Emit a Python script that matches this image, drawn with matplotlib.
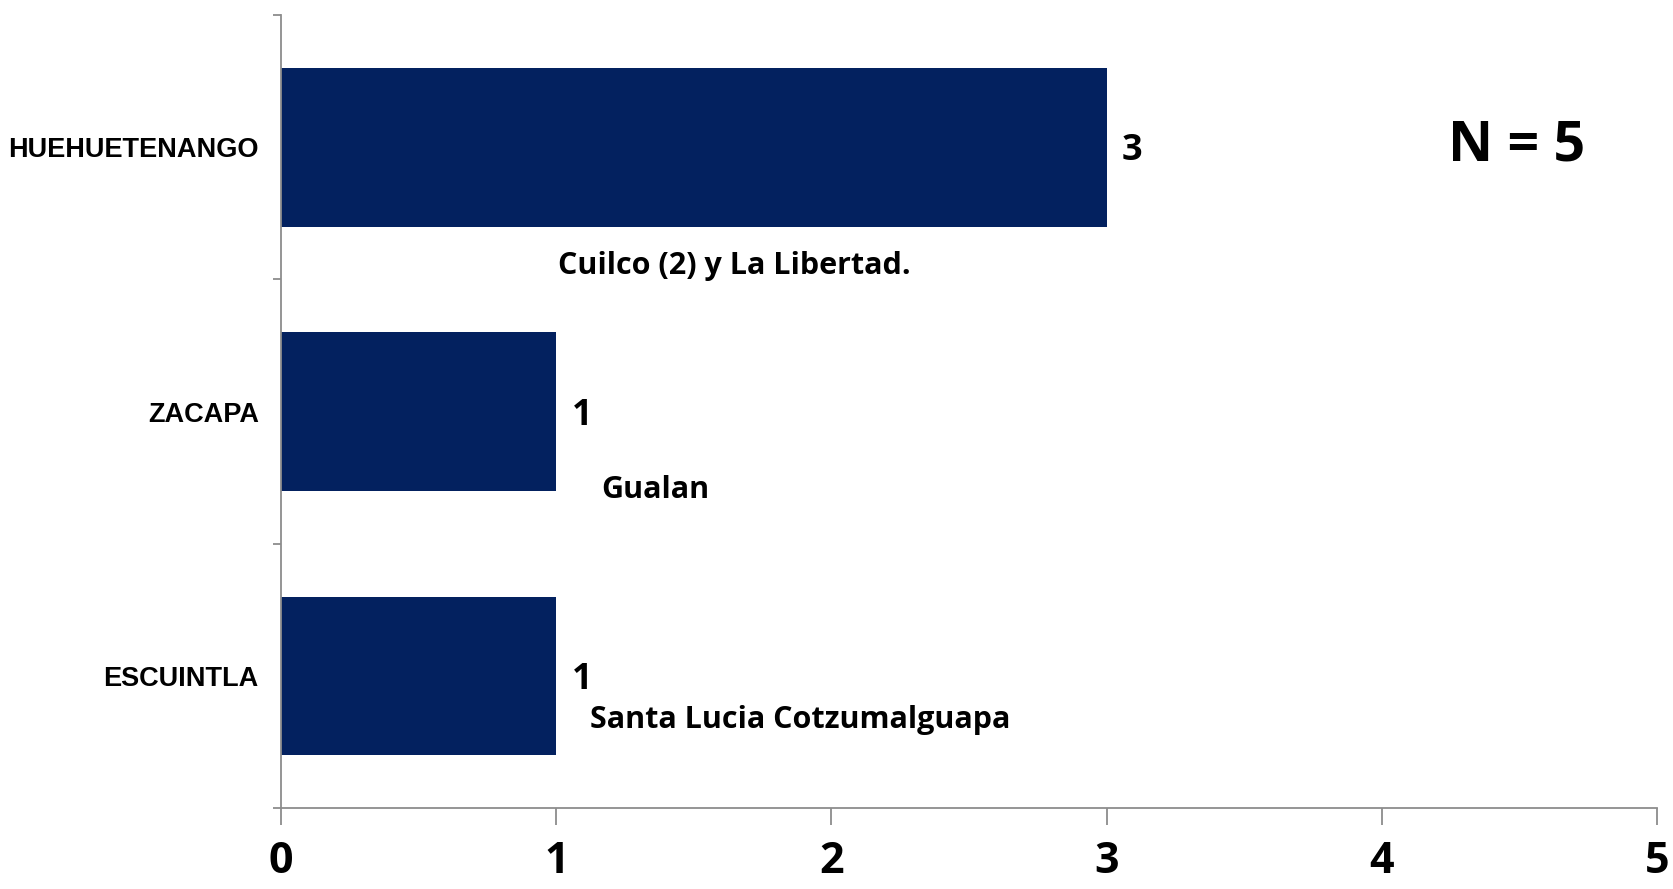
import matplotlib
matplotlib.use('Agg')
import matplotlib.pyplot as plt

# Departments, top to bottom
departamentos = ['HUEHUETENANGO', 'ZACAPA', 'ESCUINTLA']
casos = [3, 1, 1]
municipios = ['Cuilco (2) y La Libertad.', 'Gualan', 'Santa Lucia Cotzumalguapa']
total_label = 'N = 5'
x_ticks = [0, 1, 2, 3, 4, 5]

BAR_COLOR = '#03215F'
AXIS_COLOR = '#8c8c8c'
CALIBRI_LIKE = ['Open Sans', 'DejaVu Sans']

fig = plt.figure(figsize=(16.73, 8.89), dpi=100)
ax = fig.add_axes([0.168, 0.091, 0.8224, 0.892])

# Bars centred in each category band
positions = [i + 0.5 for i in range(len(departamentos))]
ax.barh(positions, casos, height=0.6, color=BAR_COLOR)

ax.set_xlim(0, 5)
ax.set_ylim(len(departamentos), 0)

# Category band ticks at the boundaries, labels at the centres
ax.set_yticks(range(len(departamentos) + 1))
ax.set_yticklabels([])
ax.set_yticks(positions, minor=True)
ax.set_yticklabels(departamentos, minor=True, fontsize=19.5, fontweight='bold',
                   family=['Liberation Sans', 'DejaVu Sans'])
ax.tick_params(axis='y', which='minor', length=0, pad=16)
ax.tick_params(axis='y', which='major', length=6, color=AXIS_COLOR, width=1.3)

ax.set_xticks(x_ticks)
ax.set_xticklabels([str(t) for t in x_ticks], fontsize=31, fontweight='bold',
                   family=CALIBRI_LIKE)
ax.tick_params(axis='x', length=12, color=AXIS_COLOR, width=1.3, pad=11)

for side in ['top', 'right']:
    ax.spines[side].set_visible(False)
for side in ['left', 'bottom']:
    ax.spines[side].set_color(AXIS_COLOR)
    ax.spines[side].set_linewidth(1.3)

# Value labels at the end of each bar
for pos, val in zip(positions, casos):
    ax.annotate(str(val), (val, pos), xytext=(11, -3), textcoords='offset points',
                ha='left', va='center', fontsize=26, fontweight='bold',
                family=CALIBRI_LIKE)

# Municipality notes under the bars
note_xy = [(1.008, 0.949), (1.163, 1.797), (1.124, 2.665)]
for (x, y), txt in zip(note_xy, municipios):
    ax.text(x, y, txt, ha='left', va='center', fontsize=22, fontweight='bold',
            family=CALIBRI_LIKE)

ax.text(4.49, 0.497, total_label, ha='center', va='center', fontsize=40,
        fontweight='bold', family=CALIBRI_LIKE)

fig.savefig('out.png', dpi=100)
